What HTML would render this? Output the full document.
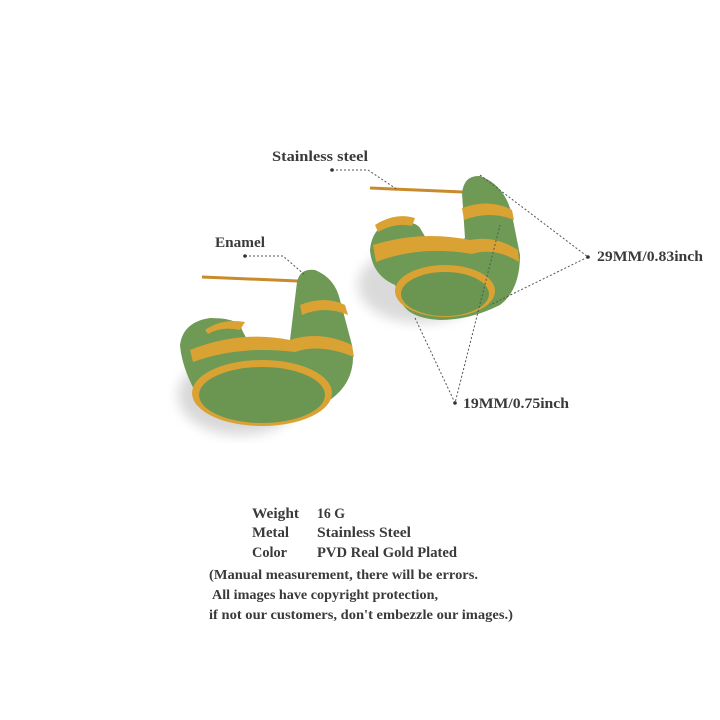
<!DOCTYPE html>
<html><head><style>
body{margin:0;width:720px;height:720px;background:#fff;overflow:hidden}
svg{position:absolute;left:0;top:0}
text{font-family:"Liberation Serif",serif;fill:#3a3a3a;font-weight:bold}
</style></head><body>
<svg width="720" height="720" viewBox="0 0 720 720">
<defs>
<filter id="b"><feGaussianBlur stdDeviation="6"/></filter>
</defs>
<ellipse cx="240" cy="395" rx="62" ry="40" fill="#d8d8d8" filter="url(#b)"/>
<ellipse cx="420" cy="285" rx="62" ry="38" fill="#dadada" filter="url(#b)"/>
<line x1="202" y1="277" x2="298" y2="281" stroke="#c98a2a" stroke-width="3"/>
<path d="M297,282 Q300,268 315,270 Q335,278 340,300 L352,345 Q358,380 330,400 Q300,420 255,425 Q215,425 200,400 Q182,370 180,345 Q183,322 210,318 Q240,318 242,330 L250,345 Q275,350 290,340 Z" fill="#6e9a55"/>
<path d="M300,305 Q325,295 345,305 L348,315 Q325,305 302,315 Z" fill="#d9a233"/>
<path d="M190,350 Q240,330 290,340 Q320,330 352,345 L354,357 Q320,343 295,352 Q240,345 193,362 Z" fill="#d9a233"/>
<ellipse cx="262" cy="393" rx="70" ry="33" fill="#d9a233"/>
<ellipse cx="262" cy="395" rx="63" ry="28" fill="#6a9652"/>
<path d="M205,330 Q222,318 245,322 L240,330 Q222,326 208,334 Z" fill="#d9a233"/>
<line x1="370" y1="188" x2="463" y2="192" stroke="#c98a2a" stroke-width="3"/>
<path d="M462,193 Q464,175 480,176 Q505,185 512,215 L520,255 Q520,290 500,305 Q470,320 440,320 Q405,318 400,298 L395,285 Q372,275 370,250 Q372,228 390,222 Q415,220 420,228 L430,245 Q450,250 465,238 Z" fill="#6e9a55"/>
<path d="M462,208 Q490,198 512,210 L514,220 Q490,210 464,220 Z" fill="#d9a233"/>
<path d="M373,245 Q420,230 470,240 Q495,235 518,250 L519,262 Q495,247 472,254 Q420,245 376,262 Z" fill="#d9a233"/>
<ellipse cx="445" cy="291" rx="50" ry="26" fill="#d9a233"/>
<ellipse cx="445" cy="294" rx="44" ry="22" fill="#6a9652"/>
<path d="M375,225 Q395,212 415,218 L412,226 Q395,222 378,232 Z" fill="#d9a233"/>
<g stroke="#555" stroke-width="1" stroke-dasharray="2,2" fill="none">
<path d="M332,170 L368,170 L398,190"/>
<path d="M245,256 L283,256 L305,275"/>
<path d="M480,175 L588,257 L490,305"/>
<path d="M415,318 L455,403 L500,225"/>
</g>
<g fill="#333"><circle cx="332" cy="170" r="1.8"/><circle cx="245" cy="256" r="1.8"/><circle cx="588" cy="257" r="1.8"/><circle cx="455" cy="403" r="1.8"/></g>
<text x="272" y="161" font-size="15" textLength="96" lengthAdjust="spacingAndGlyphs">Stainless steel</text>
<text x="215" y="247" font-size="15" textLength="50" lengthAdjust="spacingAndGlyphs">Enamel</text>
<text x="597" y="261" font-size="14.5" textLength="106" lengthAdjust="spacingAndGlyphs">29MM/0.83inch</text>
<text x="463" y="408" font-size="14.5" textLength="106" lengthAdjust="spacingAndGlyphs">19MM/0.75inch</text>
<text x="252" y="518" font-size="15" textLength="47" lengthAdjust="spacingAndGlyphs">Weight</text>
<text x="317" y="518" font-size="15" textLength="28" lengthAdjust="spacingAndGlyphs">16 G</text>
<text x="252" y="537" font-size="15" textLength="37" lengthAdjust="spacingAndGlyphs">Metal</text>
<text x="317" y="537" font-size="15" textLength="94" lengthAdjust="spacingAndGlyphs">Stainless Steel</text>
<text x="252" y="557" font-size="15" textLength="35" lengthAdjust="spacingAndGlyphs">Color</text>
<text x="317" y="557" font-size="15" textLength="140" lengthAdjust="spacingAndGlyphs">PVD Real Gold Plated</text>
<text x="209" y="579" font-size="14" textLength="269" lengthAdjust="spacingAndGlyphs">(Manual measurement, there will be errors.</text>
<text x="212" y="599" font-size="14" textLength="226" lengthAdjust="spacingAndGlyphs">All images have copyright protection,</text>
<text x="209" y="619" font-size="14" textLength="304" lengthAdjust="spacingAndGlyphs">if not our customers, don't embezzle our images.)</text>
</svg>
</body></html>
